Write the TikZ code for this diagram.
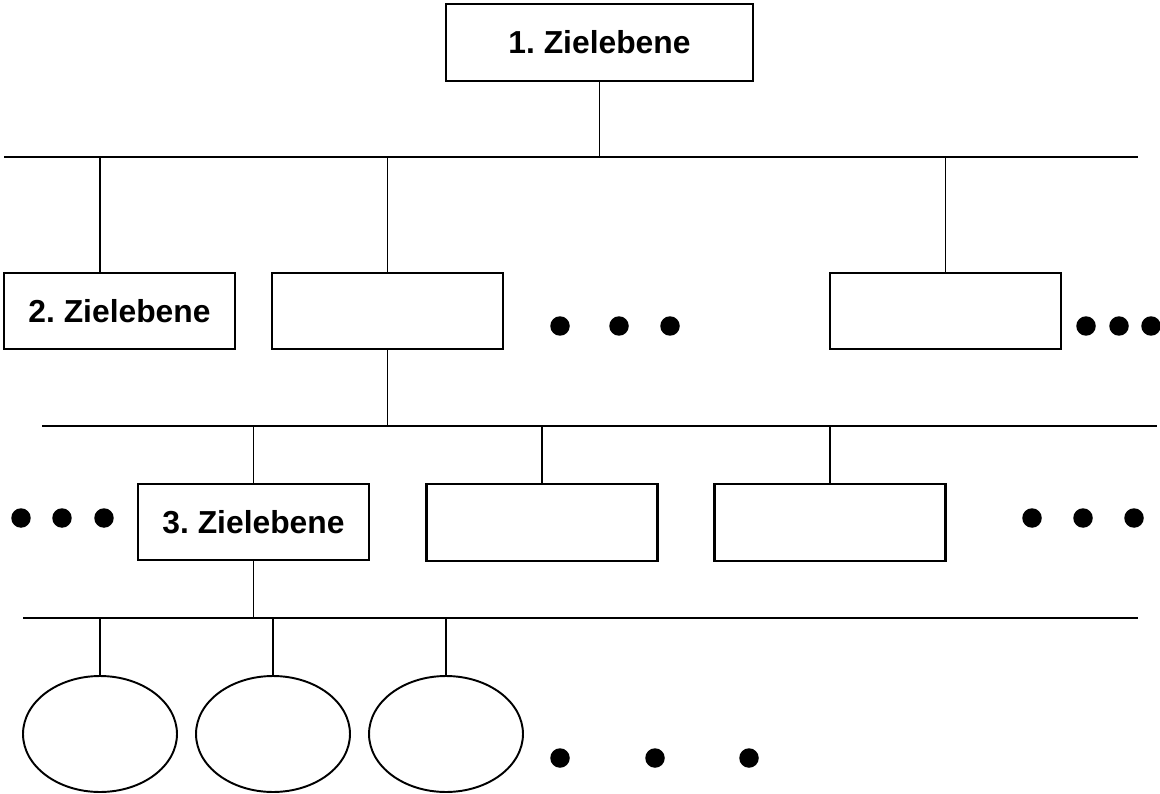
\documentclass[tikz,border=0pt]{standalone}
\usepackage{fontspec}
\setmainfont{Liberation Sans}
\usetikzlibrary{shapes.geometric}
\frenchspacing

\begin{document}
\begin{tikzpicture}[x=0.02cm, y=-0.02cm,
        ebene/.style={draw, line width=1.4pt, rectangle, minimum width=4.62cm, minimum height=1.53cm, inner sep=0pt, font=\fontsize{18.1}{21}\selectfont\bfseries},
        blatt/.style={draw, line width=1.1pt, ellipse, minimum width=3.08cm, minimum height=2.32cm, inner sep=0pt},
        punkt/.style={fill, circle, minimum size=0.39cm, inner sep=0pt},
        linie/.style={line width=1.1pt}]
            \useasboundingbox (0,0) rectangle (1160,794);
            % Zielebenen
            \node[ebene, minimum width=6.14cm] (z1) at (599.5, 42.5) {1. Zielebene};
            \node[ebene] (z2) at (119.5, 311) {2. Zielebene};
            \node[ebene] (z2b) at (387.5, 311) {};
            \node[ebene] (z2c) at (945.5, 311) {};
            \node[ebene] (z3) at (253.5, 522) {3. Zielebene};
            \node[ebene] (z3b) at (542, 522.5) {};
            \node[ebene] (z3c) at (830, 522.5) {};
            \foreach \x [count=\i] in {100, 273, 446}
                \node[blatt] (b\i) at (\x, 734) {};
            % Querlinien
            \coordinate (q1w) at (4, 157);
            \coordinate (q1e) at (1138, 157);
            \coordinate (q2w) at (42, 426);
            \coordinate (q2e) at (1157, 426);
            \coordinate (q3w) at (23, 618);
            \coordinate (q3e) at (1138, 618);
            \draw[linie] (q1w) -- (q1e);
            \draw[linie] (q2w) -- (q2e);
            \draw[linie] (q3w) -- (q3e);
            % Verbindungen
            \coordinate (a2) at (100, 157);
            \draw[linie] (z1.south) -- (z1.south |- q1w);
            \draw[linie] (a2) -- (a2 |- z2.north);
            \draw[linie] (z2b.north) -- (z2b.north |- q1w);
            \draw[linie] (z2c.north) -- (z2c.north |- q1w);
            \draw[linie] (z2b.south) -- (z2b.south |- q2w);
            \draw[linie] (z3.north) -- (z3.north |- q2w);
            \draw[linie] (z3b.north) -- (z3b.north |- q2w);
            \draw[linie] (z3c.north) -- (z3c.north |- q2w);
            \draw[linie] (z3.south) -- (z3.south |- q3w);
            \foreach \i in {1, 2, 3}
                \draw[linie] (b\i.north) -- (b\i.north |- q3w);
            % Punkte
            \foreach \x [count=\i] in {560, 619, 670}
                \node[punkt] (pa\i) at (\x, 326) {};
            \foreach \x [count=\i] in {1086, 1119, 1151}
                \node[punkt] (pb\i) at (\x, 326) {};
            \foreach \x [count=\i] in {21, 62, 104}
                \node[punkt] (pc\i) at (\x, 518) {};
            \foreach \x [count=\i] in {1032, 1083, 1134}
                \node[punkt] (pd\i) at (\x, 518) {};
            \foreach \x [count=\i] in {560, 655, 749}
                \node[punkt] (pe\i) at (\x, 758) {};
        \end{tikzpicture}
\end{document}
